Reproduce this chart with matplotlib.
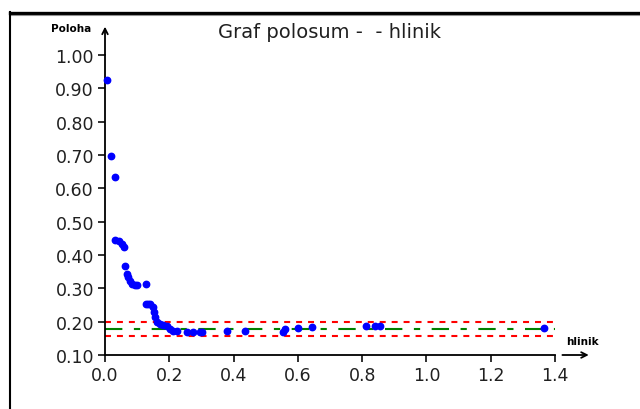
import matplotlib
matplotlib.use("Agg")
import matplotlib.pyplot as plt
from matplotlib.lines import Line2D

plt.rcParams['font.family'] = ['DejaVu Sans']
plt.rcParams['lines.scale_dashes'] = False

# --- Data ---
hlinik = [0.006, 0.019, 0.031, 0.031, 0.044, 0.053, 0.059, 0.062, 0.069, 0.072, 0.078,
          0.084, 0.093, 0.100, 0.128, 0.128, 0.134, 0.140, 0.149, 0.152, 0.156, 0.162,
          0.171, 0.180, 0.193, 0.202, 0.212, 0.224, 0.255, 0.274, 0.296, 0.302, 0.380,
          0.436, 0.555, 0.560, 0.600, 0.644, 0.812, 0.840, 0.856, 1.366]
poloha = [0.925, 0.697, 0.633, 0.444, 0.441, 0.432, 0.424, 0.366, 0.342, 0.333, 0.321,
          0.312, 0.309, 0.310, 0.312, 0.252, 0.252, 0.252, 0.243, 0.228, 0.213, 0.198,
          0.192, 0.189, 0.186, 0.178, 0.171, 0.171, 0.170, 0.170, 0.170, 0.170, 0.172,
          0.172, 0.170, 0.177, 0.180, 0.183, 0.186, 0.186, 0.186, 0.180]
mean_level = 0.178
limits = [0.198, 0.158]
line_x = [0.0, 1.4]
xticks = [0.0, 0.2, 0.4, 0.6, 0.8, 1.0, 1.2, 1.4]
yticks = [0.10, 0.20, 0.30, 0.40, 0.50, 0.60, 0.70, 0.80, 0.90, 1.00]

W, H = 640, 410
fig = plt.figure(figsize=(W / 100, H / 100), dpi=100)

# outer frame (top and left edges only)
fig.add_artist(Line2D([10 / W, 1], [1 - 13.5 / H, 1 - 13.5 / H], color='black', lw=2.4))
fig.add_artist(Line2D([10 / W, 1], [1 - 15.5 / H, 1 - 15.5 / H], color='#909090', lw=0.8))
fig.add_artist(Line2D([10 / W, 10 / W], [0, 1 - 13 / H], color='black', lw=1.5))

ax = fig.add_axes([105 / W, (H - 356) / H, 450 / W, 300 / H])
ax.set_xlim(0.0, 1.4)
ax.set_ylim(0.10, 1.00)

# control lines
for lim in limits:
    ax.plot(line_x, [lim, lim], color='red', lw=1.5, dashes=(4.3, 4.3))
ax.plot(line_x, [mean_level, mean_level], color='green', lw=1.5,
        dashes=(12.5, 8.3, 4.5, 8.3))

ax.plot(hlinik, poloha, 'o', color='blue', ms=4.6, mec='blue', clip_on=False, zorder=5)

ax.set_xticks(xticks)
ax.set_xticklabels([f"{t:.1f}" for t in xticks])
ax.set_yticks(yticks)
ax.set_yticklabels([f"{t:.2f}" for t in yticks])
ax.tick_params(labelsize=12.5, length=5, width=1.3, pad=3, colors='#202020')

for side in ['top', 'right']:
    ax.spines[side].set_visible(False)
for side in ['left', 'bottom']:
    ax.spines[side].set_linewidth(1.3)

# axis arrows
ax.annotate('', xy=(0.0, 1.085), xytext=(0.0, 1.0), xycoords='data',
            arrowprops=dict(arrowstyle='->', lw=1.3, color='black', shrinkA=0, shrinkB=0),
            annotation_clip=False)
ax.annotate('', xy=(1.505, 0.10), xytext=(1.423, 0.10), xycoords='data',
            arrowprops=dict(arrowstyle='->', lw=1.3, color='black', shrinkA=0, shrinkB=0),
            annotation_clip=False)

fig.text(330 / W, 1 - 33 / H, "Graf polosum -  - hlinik", ha='center', va='center',
         fontsize=14, color='#202020')
fig.text(71 / W, 1 - 29 / H, "Poloha", ha='center', va='center', fontsize=7.5, fontweight='bold')
fig.text(582 / W, 1 - 342 / H, "hlinik", ha='center', va='center', fontsize=7.5, fontweight='bold')

fig.savefig("out.png", dpi=100)
